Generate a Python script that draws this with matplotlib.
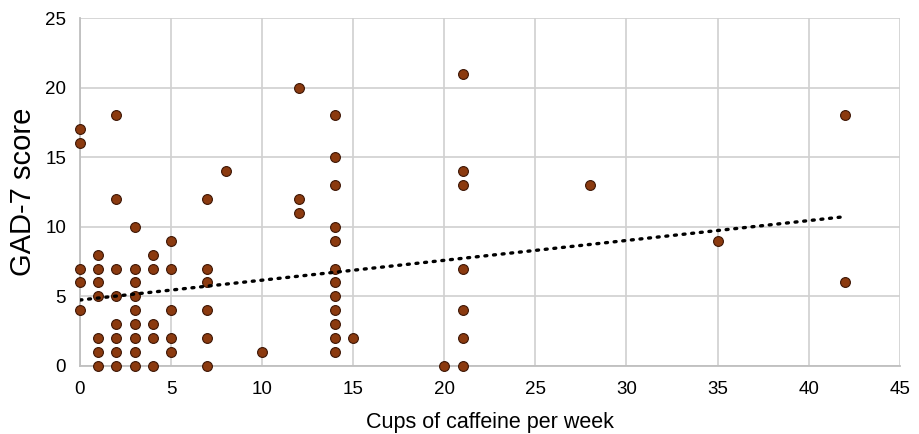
import numpy as np
import matplotlib
matplotlib.use("Agg")
import matplotlib.pyplot as plt

plt.rcParams['font.family'] = ['Liberation Sans', 'DejaVu Sans']

cups = [0,0,0,0,0,
        1,1,1,1,1,1,1,
        2,2,2,2,2,2,2,2,
        3,3,3,3,3,3,3,3,3,
        4,4,4,4,4,
        5,5,5,5,5,
        7,7,7,7,7,7,
        8,
        10,
        12,12,12,
        14,14,14,14,14,14,14,14,14,14,14,14,
        15,
        20,
        21,21,21,21,21,21,21,
        28,
        35,
        42,42]
gad7 = [17,16,7,6,4,
        8,7,6,5,2,1,0,
        18,12,7,5,3,2,1,0,
        10,7,6,5,4,3,2,1,0,
        8,7,3,2,0,
        9,7,4,2,1,
        12,7,6,4,2,0,
        14,
        1,
        20,12,11,
        18,15,13,10,9,7,6,5,4,3,2,1,
        2,
        0,
        21,14,13,7,4,2,0,
        13,
        9,
        18,6]

# linear trendline as shown in the chart
trend_intercept = 4.74
trend_slope = 0.1426
trend_x = [0, 42]

x = np.array(cups, dtype=float)
y = np.array(gad7, dtype=float)

fig = plt.figure(figsize=(9.19, 4.34), dpi=100)
ax = fig.add_axes([0.087, 0.1567, 0.892, 0.8018])

ax.scatter(x, y, s=50, color='#8B3A0F', edgecolors='#3d1605', linewidths=0.8, zorder=3, clip_on=False)

xl = np.array(trend_x, dtype=float)
ax.plot(xl, trend_slope * xl + trend_intercept, linestyle=(0, (0.6, 2.0)), color='black',
        linewidth=2.4, dash_capstyle='round', zorder=4)

ax.set_xlim(0, 45)
ax.set_ylim(0, 25)
ax.set_xticks(range(0, 46, 5))
ax.set_yticks(range(0, 26, 5))
ax.grid(True, color='#d0d0d0', linewidth=1.2)
ax.set_axisbelow(True)
for s in ['top', 'right']:
    ax.spines[s].set_visible(False)
for s in ['bottom', 'left']:
    ax.spines[s].set_color('#bfbfbf')
    ax.spines[s].set_linewidth(1.3)
ax.tick_params(axis='x', length=0, labelsize=13.5, colors='#000000', pad=11)
ax.tick_params(axis='y', length=0, labelsize=13.5, colors='#000000', pad=10)
ax.set_xlabel('Cups of caffeine per week', fontsize=15.5, color='#000000', labelpad=10)
ax.set_ylabel('GAD-7 score', fontsize=21, color='#000000', labelpad=6)

fig.savefig('out.png', dpi=100)
